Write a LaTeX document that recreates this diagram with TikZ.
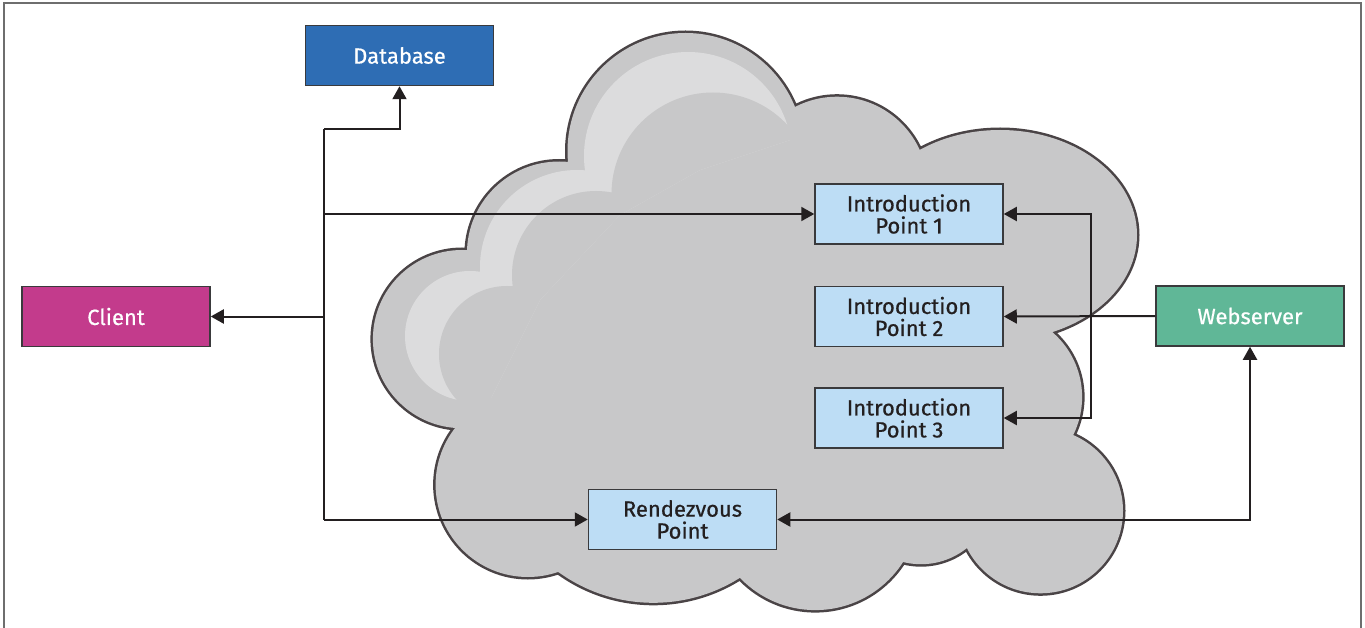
\documentclass[tikz,border=0pt]{standalone}
\usepackage{fontspec}
\setmainfont{Fira Sans}
\newfontfamily\labelfont{Fira Sans}[FakeBold=0.6]
\usetikzlibrary{arrows.meta}
\definecolor{dbblue}{HTML}{2E6DB4}
\definecolor{clientmag}{HTML}{C33B8C}
\definecolor{webgreen}{HTML}{60B797}
\definecolor{ptblue}{HTML}{BDDDF5}
\definecolor{cloudfill}{HTML}{C8C8C9}
\definecolor{cloudlight}{HTML}{DCDCDD}
\definecolor{cloudline}{HTML}{4A4446}
\definecolor{ink}{HTML}{231F20}
\definecolor{boxline}{HTML}{3A3A3C}
\definecolor{framecol}{HTML}{6E6E6E}
\tikzset{
  box/.style={draw=boxline, line width=1.5pt, minimum width=188pt, minimum height=60pt,
    inner sep=0pt, align=center, font=\labelfont\fontsize{22}{22}\selectfont},
  darkbox/.style={box, text=white},
  ptbox/.style={box, fill=ptblue, text=ink},
  conn/.style={draw=ink, line width=2pt},
  tipA/.tip={Triangle[length=13pt,width=14pt]},
  arr/.style={conn, -tipA},
  darr/.style={conn, tipA-tipA},
}
\begin{document}
\begin{tikzpicture}[x=1pt,y=-1pt]
\useasboundingbox (0,0) rectangle (1365,628);
\fill[white] (0,0) rectangle (1365,628);
% frame
\draw[framecol, line width=1.5pt] (4,628) -- (4,3) -- (1361,3) -- (1361,628);
% cloud: union of lobes
\def\lobes{(685.5,151) circle[radius=118]
  (837,187.6) circle[radius=90.9]
  (1000,235) ellipse[x radius=137, y radius=105]
  (996.5,397) circle[radius=85.6]
  (1040.5,510.8) circle[radius=82.5]
  (921,491) circle[radius=73.2]
  (815.3,506) circle[radius=104.1]
  (653.4,440.8) circle[radius=162]
  (527.9,484.7) circle[radius=92.3]
  (462,339.1) circle[radius=89.1]
  (559.1,253.7) circle[radius=92.2]}
\draw[cloudline, line width=5pt] \lobes;
\fill[cloudfill] \lobes;
\fill[cloudfill] (568,162) -- (795,107) -- (921,156) -- (1049,331) -- (1073,435)
  -- (967,548) -- (903,562) -- (740,578) -- (558,572) -- (455,428) -- (467,250) -- cycle;
% highlight crescent
\begin{scope}
  \clip (300,0) -- (820,0) -- (820,130) -- (700,170) -- (620,215) -- (540,300)
    -- (490,400) -- (450,440) -- (300,440) -- cycle;
  \fill[cloudlight] (688,156) circle[radius=104] (577,267) circle[radius=97]
    (470,336) circle[radius=65];
  \fill[cloudfill] (713,194) circle[radius=101.5] (596,275) circle[radius=84]
    (507,354) circle[radius=68];
\end{scope}
% nodes
\node[darkbox, fill=dbblue] (db) at (399.5,55.5) {Database};
\node[darkbox, fill=clientmag] (client) at (116,316.5) {Client};
\node[darkbox, fill=webgreen] (ws) at (1250,316) {Webserver};
\node[ptbox] (ip1) at (909,214) {Introduction\\Point 1};
\node[ptbox] (ip2) at (909,316.5) {Introduction\\Point 2};
\node[ptbox] (ip3) at (909,418) {Introduction\\Point 3};
\node[ptbox] (rp) at (682.5,519.5) {Rendezvous\\Point};
% junction coordinates
\coordinate (jt) at (324,129);
\coordinate (jb) at (324,519.5);
\coordinate (j1) at (324,214);
\coordinate (jc) at (324,316.5);
\coordinate (v1) at (1091,214);
\coordinate (v3) at (1091,418);
% connectors
\draw[conn] (jt) -- (jb);
\draw[arr] (jt) -| (db.south);
\draw[arr] (j1) -- (ip1.west);
\draw[arr] (jc) -- (client.east);
\draw[arr] (jb) -- (rp.west);
\draw[arr] (ws.west) -- (ip2.east);
\draw[darr] (ip1.east) -- (v1) -- (v3) -- (ip3.east);
\draw[darr] (rp.east) -| (ws.south);
\end{tikzpicture}
\end{document}
